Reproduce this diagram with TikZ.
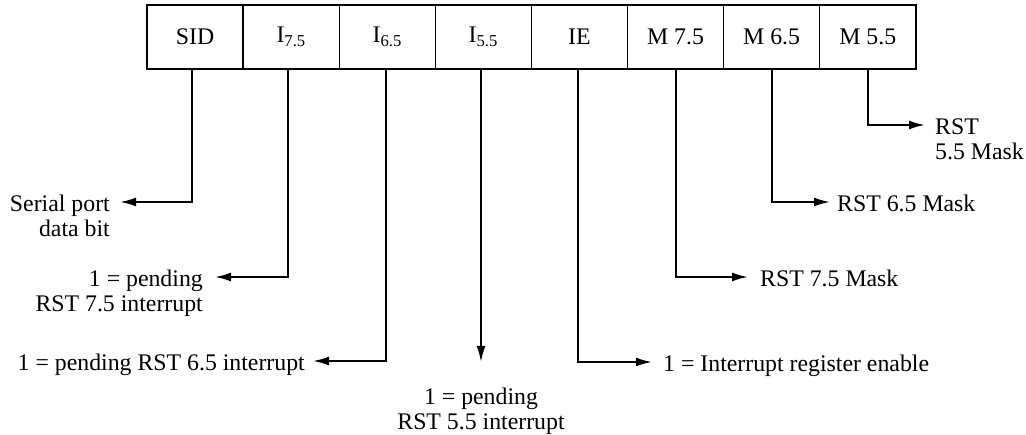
\documentclass[tikz,border=0pt]{standalone}
\usepackage{fontspec}
\setmainfont{Liberation Serif}
\usetikzlibrary{arrows.meta}
\begin{document}
\begin{tikzpicture}[x=1pt,y=-1pt,
  cell/.style={draw,line width=1.4pt,minimum width=96.1pt,minimum height=64pt,inner sep=0pt,anchor=center,font=\fontsize{23.8}{25}\selectfont},
  lbl/.style={inner sep=0pt,font=\fontsize{23.8}{25}\selectfont},
  conn/.style={line width=2pt,-{Latex[length=16pt,width=9pt]}}]
\useasboundingbox (0,0) rectangle (1026,435);
\foreach \i/\t/\n in {0/SID/c1,1/I\textsubscript{7.5}/c2,2/I\textsubscript{6.5}/c3,3/I\textsubscript{5.5}/c4,4/IE/c5,5/M 7.5/c6,6/M 6.5/c7,7/M 5.5/c8}
  \node[cell] (\n) at ({147+96.1*(\i+0.5)},37) {\t};
% arrow end points
\coordinate (e1) at (120,202);
\coordinate (e2) at (215,277);
\coordinate (e3) at (313,361);
\coordinate (e4) at (481,362);
\coordinate (e5) at (652,362);
\coordinate (e6) at (748,277);
\coordinate (e7) at (830,202);
\coordinate (e8) at (925,125);
% labels (base anchor of a multi-line node is its last line)
\node[lbl,anchor=base east,align=right] (t1) at (110,237) {Serial port\\data bit};
\node[lbl,anchor=base east,align=right] (t2) at (203,312) {1 = pending\\RST 7.5 interrupt};
\node[lbl,anchor=base east] (t3) at (305,371) {1 = pending RST 6.5 interrupt};
\node[lbl,anchor=base,align=center] (t4) at (481,430) {1 = pending\\RST 5.5 interrupt};
\node[lbl,anchor=base west] (t5) at (663,372) {1 = Interrupt register enable};
\node[lbl,anchor=base west] (t6) at (760,287) {RST 7.5 Mask};
\node[lbl,anchor=base west] (t7) at (837,212) {RST 6.5 Mask};
\node[lbl,anchor=base west,align=left] (t8) at (935,160) {RST\\5.5 Mask};
% connectors
\draw[conn] ([xshift=-3pt]c1.south) |- (e1);
\draw[conn] ([xshift=-3pt]c2.south) |- (e2);
\draw[conn] ([xshift=-1.5pt]c3.south) |- (e3);
\draw[conn] (c4.south -| e4) -- (e4);
\draw[conn] ([xshift=-1pt]c5.south) |- (e5);
\draw[conn] (c6.south) |- (e6);
\draw[conn] (c7.south) |- (e7);
\draw[conn] (c8.south) |- (e8);
\end{tikzpicture}
\end{document}
